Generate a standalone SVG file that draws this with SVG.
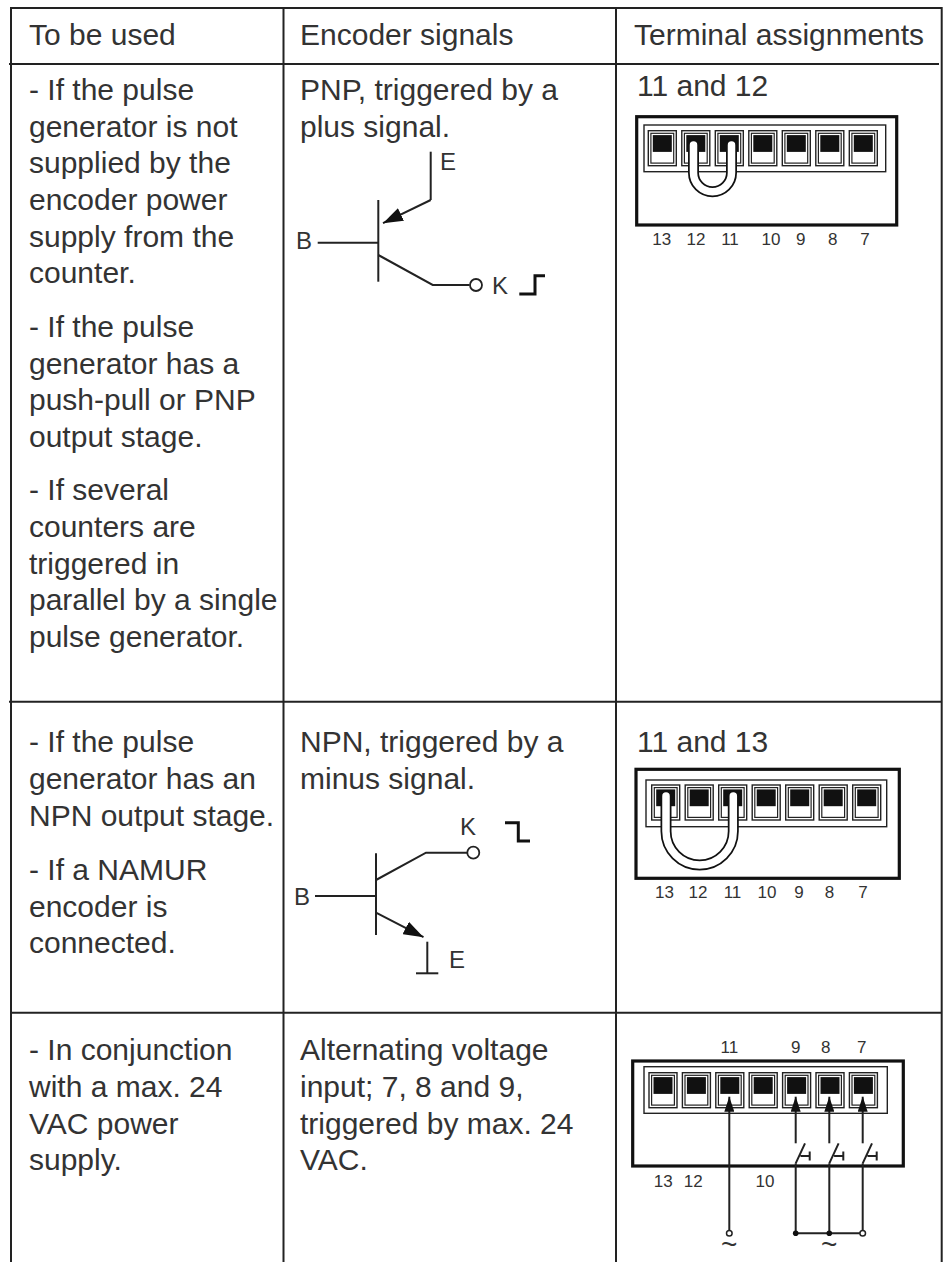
<svg xmlns="http://www.w3.org/2000/svg" width="948" height="1262" viewBox="0 0 948 1262">
<style>
text{font-family:"Liberation Sans",Arial,sans-serif;fill:#333}
.t{font-size:30px}
.lbl{font-size:24px}
.num{font-size:17px}
.tl{font-size:28px}
.grid{stroke:#222;stroke-width:2;fill:none}
.ln{stroke:#222;stroke-width:2;fill:none}
.box{stroke:#111;stroke-width:3.2;fill:#fff}
.strip{stroke:#222;stroke-width:1.4;fill:none}
.jb{stroke:#111;stroke-width:11;fill:none;stroke-linecap:round}
.jw{stroke:#fff;stroke-width:7.5;fill:none;stroke-linecap:round}
</style>
<defs>
<g id="cell">
<rect x="0" y="0" width="28" height="35" fill="#fff" stroke="#222" stroke-width="1.4"/>
<rect x="2.6" y="2.6" width="22.8" height="29.8" fill="none" stroke="#222" stroke-width="1.2"/>
<rect x="4.5" y="4.4" width="19" height="16.8" fill="#111"/>
</g>
<marker id="ta" viewBox="0 0 15 10" refX="15" refY="5" markerWidth="15" markerHeight="10" markerUnits="userSpaceOnUse" orient="auto">
<path d="M0,0 L15,5 L0,10 z" fill="#111"/>
</marker>
<marker id="tr" viewBox="0 0 20 14" refX="20" refY="7" markerWidth="20" markerHeight="14" markerUnits="userSpaceOnUse" orient="auto">
<path d="M0,0 L20,7 L0,14 z" fill="#111"/>
</marker>
</defs>
<rect width="948" height="1262" fill="#fff"/>

<g id="table-grid">
<line class="grid" x1="11" y1="8" x2="942" y2="8"/>
<line class="grid" x1="11" y1="7" x2="11" y2="1262"/>
<line class="grid" x1="283.5" y1="7" x2="283.5" y2="1262"/>
<line class="grid" x1="616" y1="7" x2="616" y2="1262"/>
<line class="grid" x1="941.7" y1="7" x2="941.7" y2="1262"/>
<line class="grid" x1="9" y1="64" x2="939" y2="64"/>
<line class="grid" x1="9" y1="701.7" x2="942" y2="701.7"/>
<line class="grid" x1="11" y1="1012.7" x2="942" y2="1012.7"/>
</g>

<g id="header">
<text class="t" x="29" y="45">To be used</text>
<text class="t" x="300" y="45">Encoder signals</text>
<text class="t" x="634" y="45">Terminal assignments</text>
</g>

<g id="row1-use">
<text class="t" x="29" y="100">- If the pulse</text>
<text class="t" x="29" y="137">generator is not</text>
<text class="t" x="29" y="173">supplied by the</text>
<text class="t" x="29" y="210">encoder power</text>
<text class="t" x="29" y="247">supply from the</text>
<text class="t" x="29" y="283">counter.</text>
<text class="t" x="29" y="337">- If the pulse</text>
<text class="t" x="29" y="374">generator has a</text>
<text class="t" x="29" y="410">push-pull or PNP</text>
<text class="t" x="29" y="447">output stage.</text>
<text class="t" x="29" y="500">- If several</text>
<text class="t" x="29" y="537">counters are</text>
<text class="t" x="29" y="574">triggered in</text>
<text class="t" x="29" y="610">parallel by a single</text>
<text class="t" x="29" y="647">pulse generator.</text>
</g>

<g id="row1-signal">
<text class="t" x="300" y="100">PNP, triggered by a</text>
<text class="t" x="300" y="137">plus signal.</text>
<line class="ln" x1="378.3" y1="200" x2="378.3" y2="281.7"/>
<line class="ln" x1="317.7" y1="242.7" x2="378.3" y2="242.7"/>
<polyline class="ln" points="430.7,151.7 430.7,200"/>
<line class="ln" x1="430.7" y1="200" x2="383" y2="223.2" marker-end="url(#tr)"/>
<polyline class="ln" points="378.3,255 432.7,285 469.5,285"/>
<circle cx="476" cy="285" r="6" fill="#fff" stroke="#222" stroke-width="1.8"/>
<polyline points="519.3,294 535,294 535,275.7 545,275.7" fill="none" stroke="#111" stroke-width="3"/>
<text class="lbl" x="296" y="248.5">B</text>
<text class="lbl" x="440" y="169.5">E</text>
<text class="lbl" x="492" y="294">K</text>
</g>

<g id="row1-terminal">
<text class="t" x="637" y="96">11 and 12</text>
<rect class="box" x="636.7" y="116.7" width="260" height="108.3"/>
<rect class="strip" x="644" y="125" width="241.7" height="46.7"/>
<use href="#cell" x="648.3" y="130.7"/>
<use href="#cell" x="681.8" y="130.7"/>
<use href="#cell" x="715.3" y="130.7"/>
<use href="#cell" x="748.8" y="130.7"/>
<use href="#cell" x="782.3" y="130.7"/>
<use href="#cell" x="815.8" y="130.7"/>
<use href="#cell" x="849.3" y="130.7"/>
<path class="jb" d="M693.5,145 L693.5,172.7 A19,19 0 0 0 731.5,172.7 L731.5,145"/>
<path class="jw" d="M693.5,145 L693.5,172.7 A19,19 0 0 0 731.5,172.7 L731.5,145"/>
<text class="num" x="661.7" y="245" text-anchor="middle">13</text>
<text class="num" x="696" y="245" text-anchor="middle">12</text>
<text class="num" x="730" y="245" text-anchor="middle">11</text>
<text class="num" x="771" y="245" text-anchor="middle">10</text>
<text class="num" x="800.7" y="245" text-anchor="middle">9</text>
<text class="num" x="832.7" y="245" text-anchor="middle">8</text>
<text class="num" x="865" y="245" text-anchor="middle">7</text>
</g>

<g id="row2-use">
<text class="t" x="29" y="752">- If the pulse</text>
<text class="t" x="29" y="789">generator has an</text>
<text class="t" x="29" y="826">NPN output stage.</text>
<text class="t" x="29" y="880">- If a NAMUR</text>
<text class="t" x="29" y="917">encoder is</text>
<text class="t" x="29" y="953">connected.</text>
</g>

<g id="row2-signal">
<text class="t" x="300" y="752">NPN, triggered by a</text>
<text class="t" x="300" y="789">minus signal.</text>
<line class="ln" x1="376" y1="853.3" x2="376" y2="935"/>
<line class="ln" x1="315" y1="896" x2="376" y2="896"/>
<polyline class="ln" points="376,880 426,852.7 467.3,852.7"/>
<circle cx="473.3" cy="852.7" r="6" fill="#fff" stroke="#222" stroke-width="1.8"/>
<line class="ln" x1="376" y1="912.7" x2="423.5" y2="937.2" marker-end="url(#tr)"/>
<line class="ln" x1="427.3" y1="941.7" x2="427.3" y2="973.3"/>
<line class="ln" x1="416" y1="973.3" x2="438.3" y2="973.3"/>
<polyline points="505,822.7 518.3,822.7 518.3,841 530,841" fill="none" stroke="#111" stroke-width="3"/>
<text class="lbl" x="294" y="905">B</text>
<text class="lbl" x="468" y="835" text-anchor="middle">K</text>
<text class="lbl" x="449" y="968.3">E</text>
</g>

<g id="row2-terminal">
<text class="t" x="637" y="752">11 and 13</text>
<rect class="box" x="636" y="769.3" width="263.3" height="109"/>
<rect class="strip" x="646" y="780" width="240.7" height="46.7"/>
<use href="#cell" x="651.7" y="785"/>
<use href="#cell" x="685.2" y="785"/>
<use href="#cell" x="718.7" y="785"/>
<use href="#cell" x="752.2" y="785"/>
<use href="#cell" x="785.7" y="785"/>
<use href="#cell" x="819.2" y="785"/>
<use href="#cell" x="852.7" y="785"/>
<path class="jb" d="M666,796 L666,831.3 A33.65,33.65 0 0 0 733.3,831.3 L733.3,796"/>
<path class="jw" d="M666,796 L666,831.3 A33.65,33.65 0 0 0 733.3,831.3 L733.3,796"/>
<text class="num" x="664.5" y="898.3" text-anchor="middle">13</text>
<text class="num" x="698" y="898.3" text-anchor="middle">12</text>
<text class="num" x="732.5" y="898.3" text-anchor="middle">11</text>
<text class="num" x="767" y="898.3" text-anchor="middle">10</text>
<text class="num" x="799" y="898.3" text-anchor="middle">9</text>
<text class="num" x="829.5" y="898.3" text-anchor="middle">8</text>
<text class="num" x="863" y="898.3" text-anchor="middle">7</text>
</g>

<g id="row3-use">
<text class="t" x="29" y="1060">- In conjunction</text>
<text class="t" x="29" y="1097">with a max. 24</text>
<text class="t" x="29" y="1134">VAC power</text>
<text class="t" x="29" y="1170">supply.</text>
</g>

<g id="row3-signal">
<text class="t" x="300" y="1060">Alternating voltage</text>
<text class="t" x="300" y="1097">input; 7, 8 and 9,</text>
<text class="t" x="300" y="1134">triggered by max. 24</text>
<text class="t" x="300" y="1170">VAC.</text>
</g>

<g id="row3-terminal">
<text class="num" x="729.3" y="1052.7" text-anchor="middle">11</text>
<text class="num" x="795.7" y="1052.7" text-anchor="middle">9</text>
<text class="num" x="825.7" y="1052.7" text-anchor="middle">8</text>
<text class="num" x="861.7" y="1052.7" text-anchor="middle">7</text>
<rect class="box" x="632.7" y="1061" width="270.6" height="105"/>
<rect class="strip" x="644" y="1066.7" width="243.3" height="46.6"/>
<use href="#cell" x="649" y="1072.7"/>
<use href="#cell" x="682.4" y="1072.7"/>
<use href="#cell" x="715.8" y="1072.7"/>
<use href="#cell" x="749.2" y="1072.7"/>
<use href="#cell" x="782.6" y="1072.7"/>
<use href="#cell" x="816" y="1072.7"/>
<use href="#cell" x="849.4" y="1072.7"/>
<text class="num" x="663.3" y="1186.7" text-anchor="middle">13</text>
<text class="num" x="693.3" y="1186.7" text-anchor="middle">12</text>
<text class="num" x="765" y="1186.7" text-anchor="middle">10</text>
</g>

<g id="connectors">
<line class="ln" x1="729.3" y1="1230.5" x2="729.3" y2="1096.7" marker-end="url(#ta)"/>
<line class="ln" x1="795.7" y1="1143.3" x2="795.7" y2="1096.7" marker-end="url(#ta)"/>
<line class="ln" x1="829.3" y1="1143.3" x2="829.3" y2="1096.7" marker-end="url(#ta)"/>
<line class="ln" x1="862.7" y1="1143.3" x2="862.7" y2="1096.7" marker-end="url(#ta)"/>
<path class="ln" d="M795.7,1163.3 L805,1143.3 M800.5,1156 L809.7,1156 M809.7,1151.5 L809.7,1160.5"/>
<path class="ln" d="M829.3,1163.3 L838.6,1143.3 M834.1,1156 L843.3,1156 M843.3,1151.5 L843.3,1160.5"/>
<path class="ln" d="M862.7,1163.3 L872,1143.3 M867.5,1156 L876.7,1156 M876.7,1151.5 L876.7,1160.5"/>
<line class="ln" x1="795.7" y1="1163.3" x2="795.7" y2="1233.3"/>
<line class="ln" x1="829.3" y1="1163.3" x2="829.3" y2="1233.3"/>
<line class="ln" x1="862.7" y1="1163.3" x2="862.7" y2="1230.5"/>
<line class="ln" x1="795.7" y1="1233.3" x2="860" y2="1233.3"/>
<circle cx="795.7" cy="1233.3" r="2.8" fill="#111"/>
<circle cx="829.3" cy="1233.3" r="2.8" fill="#111"/>
<circle cx="729.3" cy="1233.3" r="2.8" fill="#fff" stroke="#222" stroke-width="1.5"/>
<circle cx="862.7" cy="1233.3" r="2.8" fill="#fff" stroke="#222" stroke-width="1.5"/>
<text class="tl" x="729.3" y="1254" text-anchor="middle">~</text>
<text class="tl" x="829.3" y="1254" text-anchor="middle">~</text>
</g>
</svg>
